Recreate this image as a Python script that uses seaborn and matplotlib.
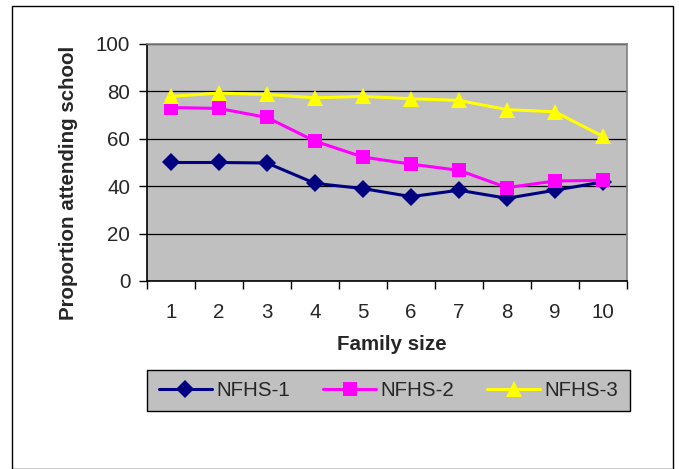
import matplotlib
matplotlib.use("Agg")
import matplotlib.pyplot as plt
from matplotlib.patches import Rectangle
import seaborn as sns
import pandas as pd

# Survey data: share of children attending school by family size
family_size = [1, 2, 3, 4, 5, 6, 7, 8, 9, 10]
nfhs1 = [50.0, 50.0, 49.8, 41.2, 39.0, 35.6, 38.3, 34.9, 38.3, 41.8]
nfhs2 = [73.2, 72.8, 69.0, 59.0, 52.3, 49.3, 46.7, 39.4, 42.2, 42.5]
nfhs3 = [77.9, 79.3, 78.7, 77.3, 77.9, 76.9, 76.2, 72.3, 71.4, 61.0]
series_names = ["NFHS-1", "NFHS-2", "NFHS-3"]
series_colors = ["#000080", "#FF00FF", "#FFFF00"]
series_markers = ["D", "s", "^"]
marker_sizes = [9.5, 10, 12]
y_ticks = [0, 20, 40, 60, 80, 100]

FS = 14.8

sns.set_theme(style="white")
plt.rcParams["font.family"] = ["Liberation Sans", "DejaVu Sans"]

rows = []
for name, vals in zip(series_names, [nfhs1, nfhs2, nfhs3]):
    for i, (fs, v) in enumerate(zip(family_size, vals)):
        rows.append({"pos": i, "size": fs, "value": v, "series": name})
df = pd.DataFrame(rows)

W, H = 679, 469
fig = plt.figure(figsize=(W / 100, H / 100), dpi=100)
fig.patch.set_facecolor("white")

# outer chart border
fig.patches.append(Rectangle((12 / W, 0), 661 / W, 1 - 6 / H,
                             transform=fig.transFigure, fill=False,
                             edgecolor="black", linewidth=1.0, zorder=0))

ax = fig.add_axes([147 / W, 1 - 281 / H, 480 / W, 237 / H])
ax.set_facecolor("#C0C0C0")

sns.lineplot(data=df, x="pos", y="value", hue="series", style="series",
             hue_order=series_names, style_order=series_names,
             palette=dict(zip(series_names, series_colors)),
             markers=dict(zip(series_names, series_markers)),
             dashes=False, markersize=10, linewidth=2.2,
             markeredgewidth=0, ax=ax, legend=True, zorder=3)

for line, ms in zip(ax.lines[:3], marker_sizes):
    line.set_markersize(ms)

ax.set_xlim(-0.5, len(family_size) - 0.5)
ax.set_ylim(0, 100)
ax.set_yticks(y_ticks)
ax.set_yticklabels([str(t) for t in y_ticks], fontsize=FS)
ax.yaxis.grid(True, color="black", linewidth=0.9)
ax.xaxis.grid(False)
ax.set_axisbelow(True)

# category ticks sit between categories; labels sit at category centres
ax.set_xticks([i - 0.5 for i in range(len(family_size) + 1)])
ax.set_xticklabels([])
ax.set_xticks(list(range(len(family_size))), minor=True)
ax.set_xticklabels([str(s) for s in family_size], minor=True, fontsize=FS)
ax.tick_params(axis="x", which="major", direction="out", length=6,
               width=1, color="black", bottom=True)
ax.tick_params(axis="x", which="minor", length=0, pad=16)
ax.tick_params(axis="y", direction="out", length=6, width=1,
               color="black", left=True, pad=6)

for side in ["top", "right"]:
    ax.spines[side].set_color("#808080")
    ax.spines[side].set_linewidth(1.2)
for side in ["left", "bottom"]:
    ax.spines[side].set_color("black")
    ax.spines[side].set_linewidth(1.2)

ax.set_xlabel("")
ax.set_ylabel("")
fig.text(69 / W, 1 - 183 / H, "Proportion attending school", rotation=90,
         ha="center", va="center", fontsize=FS, fontweight="bold")
fig.text(392 / W, 1 - 344 / H, "Family size", ha="center", va="center",
         fontsize=FS, fontweight="bold")

handles, labels = ax.get_legend_handles_labels()
for h, ms in zip(handles, marker_sizes):
    h.set_markersize(ms)
ax.get_legend().remove()
leg = fig.legend(handles, labels, loc="center",
                 bbox_to_anchor=(388.5 / W, 1 - 390.5 / H), ncol=3,
                 frameon=True, fancybox=False, fontsize=FS,
                 handlelength=2.6, handletextpad=0.2, columnspacing=1.6,
                 borderpad=0.55)
frame = leg.get_frame()
frame.set_facecolor("#C0C0C0")
frame.set_edgecolor("black")
frame.set_linewidth(1.0)
frame.set_alpha(1)

fig.savefig("out.png", dpi=100)
